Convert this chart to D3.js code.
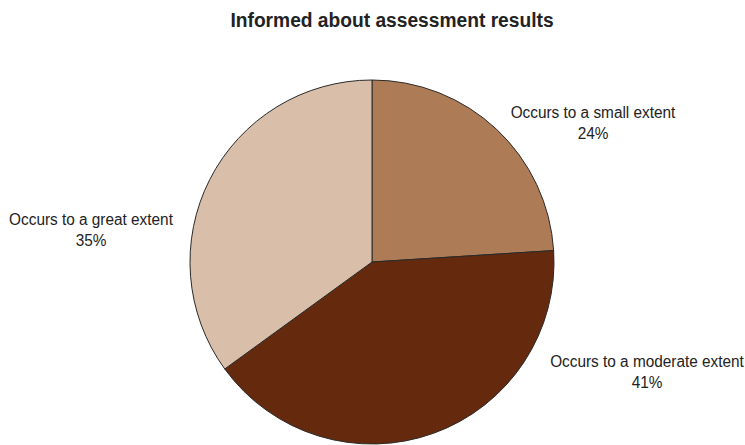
<!DOCTYPE html>
<html>
<head>
<meta charset="utf-8">
<script src="https://cdn.jsdelivr.net/npm/d3@7"></script>
<style>
  html, body { margin: 0; padding: 0; background: #fff; }
  svg { display: block; }
  text { font-family: "Liberation Sans Narrow", "Arial Narrow", "Liberation Sans", Arial, sans-serif; fill: #222; }
</style>
</head>
<body>
<svg id="chart" width="745" height="445"></svg>
<script>
const title = "Informed about assessment results";
const categories = ["Occurs to a small extent", "Occurs to a moderate extent", "Occurs to a great extent"];
const values = [24, 41, 35];
const colors = ["#ad7b56", "#652a0e", "#d9bfa9"];

const width = 745, height = 445;
const cx = 372, cy = 262, radius = 182;
// horizontal squeeze to give a condensed look to the text
const squeeze = 0.96;

// Baseline of the first label line, one per slice
const labelAnchors = [[593, 118], [647, 367], [91, 225]];

const svg = d3.select("#chart");

svg.append("g")
  .attr("transform", `translate(392,27) scale(${squeeze},1)`)
  .append("text")
  .attr("text-anchor", "middle")
  .style("font-size", "20px")
  .style("font-weight", "bold")
  .text(title);

const data = categories.map((c, i) => ({ label: c, value: values[i], color: colors[i] }));

const pie = d3.pie().sort(null).value(d => d.value);
const arc = d3.arc().innerRadius(0).outerRadius(radius);

const g = svg.append("g").attr("transform", `translate(${cx},${cy})`);

g.selectAll("path")
  .data(pie(data))
  .join("path")
  .attr("d", arc)
  .attr("fill", d => d.data.color)
  .attr("stroke", "#2a2a2a")
  .attr("stroke-width", 1);

const labels = svg.selectAll("g.label")
  .data(data)
  .join("g")
  .attr("class", "label")
  .attr("transform", (d, i) => `translate(${labelAnchors[i][0]},${labelAnchors[i][1]}) scale(${squeeze},1)`);

labels.append("text")
  .attr("text-anchor", "middle")
  .attr("y", 0)
  .style("font-size", "16px")
  .text(d => d.label);

labels.append("text")
  .attr("text-anchor", "middle")
  .attr("y", 21)
  .style("font-size", "16px")
  .text(d => d.value + "%");
</script>
</body>
</html>
